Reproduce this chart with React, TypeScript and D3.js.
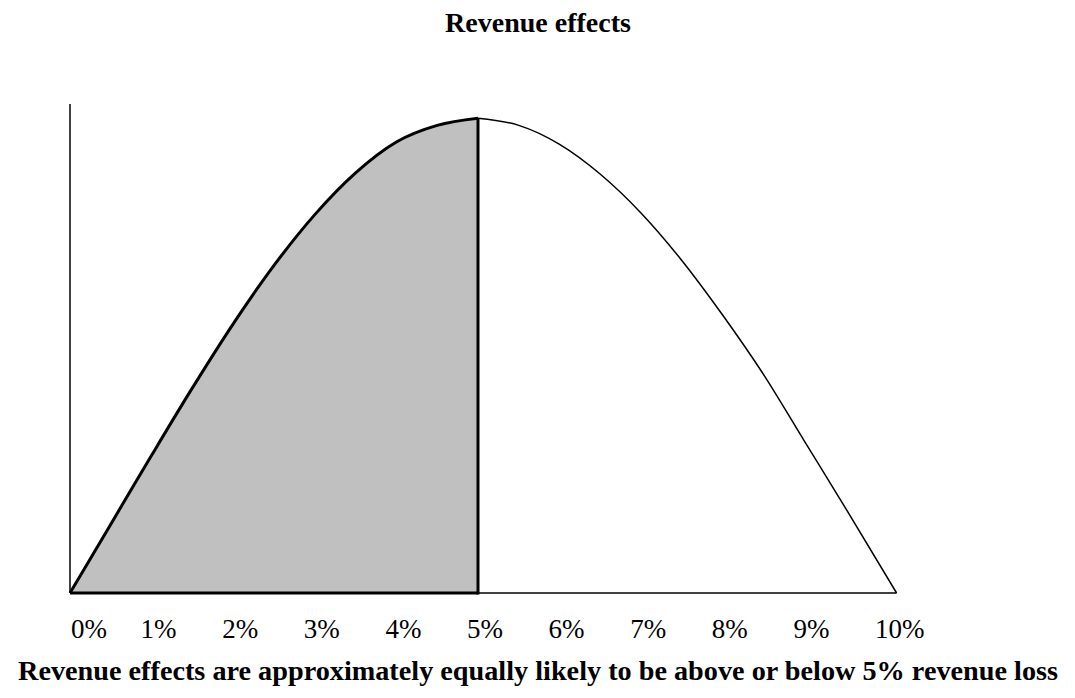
import React from "react";
import * as d3 from "d3";

// Curve: x in % revenue loss, y as share of the peak
const lowerX = [0, 0.5, 1, 1.5, 2, 2.5, 3, 3.5, 4, 4.5, 5];
const lowerY = [0, 0.145, 0.29, 0.432, 0.567, 0.69, 0.797, 0.885, 0.95, 0.985, 1];
const upperX = [5, 5.5, 6, 6.5, 7, 7.5, 8, 8.5, 9, 9.5, 10.13];
const upperY = [1, 0.985, 0.945, 0.882, 0.8, 0.7, 0.585, 0.46, 0.32, 0.18, 0];
const tickLabels = ["0%", "1%", "2%", "3%", "4%", "5%", "6%", "7%", "8%", "9%", "10%"];
const median = 5;

const W = 1075;
const H = 698;
const FONT = "'Liberation Serif', 'Times New Roman', serif";

export default function App() {
    const x = d3.scaleLinear().domain([0, 10]).range([70, 886]);
    const y = d3.scaleLinear().domain([0, 1.03]).range([593, 104]);

    const lower = lowerX.map((v, i) => [v, lowerY[i]] as [number, number]);
    const upper = upperX.map((v, i) => [v, upperY[i]] as [number, number]);

    const line = d3.line<[number, number]>()
        .x(d => x(d[0]))
        .y(d => y(d[1]))
        .curve(d3.curveMonotoneX);

    const area = d3.area<[number, number]>()
        .x(d => x(d[0]))
        .y0(y(0))
        .y1(d => y(d[1]))
        .curve(d3.curveMonotoneX);

    const endX = upperX[upperX.length - 1];

    // tick labels are left-aligned text boxes, kept inside the axis
    const labelX = (i: number) => Math.max(x(i) - 11, x(0) + 1);

    return (
        <svg width={W} height={H} style={{ position: "absolute", left: 0, top: 0, background: "#fff" }}>
            <text x={538} y={32} textAnchor="middle" fontFamily={FONT} fontWeight="bold" fontSize={28}>
                Revenue effects
            </text>

            {/* shaded lower half */}
            <path d={area(lower) || ""} fill="#c0c0c0" />

            {/* y axis */}
            <line x1={x(0)} x2={x(0)} y1={y(0)} y2={y(1.03)} stroke="#000" strokeWidth={1.5} />

            {/* baseline */}
            <line x1={x(median)} x2={x(endX)} y1={y(0)} y2={y(0)} stroke="#000" strokeWidth={1.5} />
            <line x1={x(0)} x2={x(median)} y1={y(0)} y2={y(0)} stroke="#000" strokeWidth={3} />

            {/* curve */}
            <path d={line(upper) || ""} fill="none" stroke="#000" strokeWidth={1.5} />
            <path d={line(lower) || ""} fill="none" stroke="#000" strokeWidth={3} strokeLinejoin="round" />

            {/* median marker */}
            <line x1={x(median)} x2={x(median)} y1={y(0) + 1.5} y2={y(1)} stroke="#000" strokeWidth={3} />

            {tickLabels.map((t, i) => (
                <text key={t} x={labelX(i)} y={638} fontFamily={FONT} fontSize={27}>
                    {t}
                </text>
            ))}

            <text x={18} y={680} textLength={1040} lengthAdjust="spacingAndGlyphs"
                fontFamily={FONT} fontWeight="bold" fontSize={28}>
                Revenue effects are approximately equally likely to be above or below 5% revenue loss
            </text>
        </svg>
    );
}
